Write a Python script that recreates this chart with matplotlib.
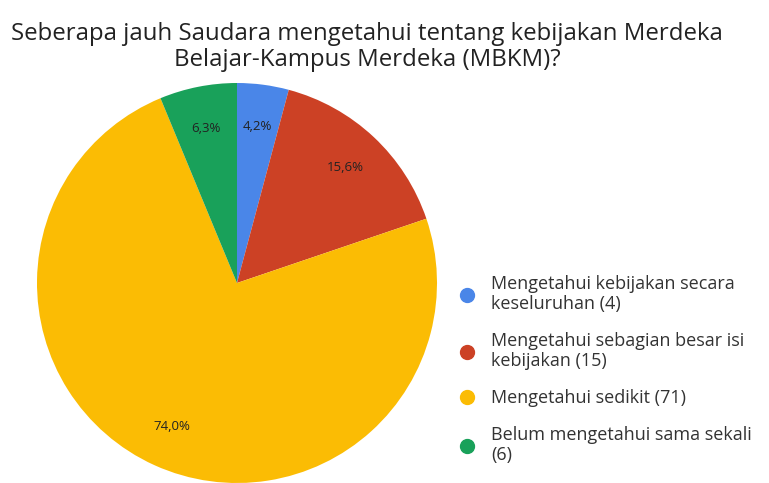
import numpy as np
import matplotlib.pyplot as plt
from matplotlib.lines import Line2D

# Survey data
labels = [
    "Mengetahui kebijakan secara\nkeseluruhan (4)",
    "Mengetahui sebagian besar isi\nkebijakan (15)",
    "Mengetahui sedikit (71)",
    "Belum mengetahui sama sekali\n(6)",
]
counts = [4, 15, 71, 6]
colors = ["#4A86E8", "#CC4125", "#FBBC04", "#19A15A"]
title = "Seberapa jauh Saudara mengetahui tentang kebijakan Merdeka\nBelajar-Kampus Merdeka (MBKM)?"

plt.rcParams["font.family"] = ["Open Sans", "DejaVu Sans"]

fig = plt.figure(figsize=(7.69, 4.83), dpi=100)
ax = fig.add_axes([37 / 769, 0 / 483, 400 / 769, 400 / 483])

total = sum(counts)
wedges, texts = ax.pie(
    counts, colors=colors, startangle=90, counterclock=False,
    wedgeprops=dict(linewidth=0),
)
ax.set_xlim(-1, 1)
ax.set_ylim(-1, 1)
ax.set_aspect("equal")

# percentage labels with comma decimals (round half up)
theta = 90.0
for c in counts:
    frac = c / total
    mid = np.deg2rad(theta - frac * 360 / 2)
    theta -= frac * 360
    pct = np.floor(frac * 1000 + 0.5) / 10
    ax.text(0.79 * np.cos(mid), 0.79 * np.sin(mid),
            f"{pct:.1f}%".replace(".", ","),
            ha="center", va="center", fontsize=9.5, color="#222222")

fig.text(0.477, 0.955, title, ha="center", va="top", fontsize=17.3,
         color="#222222", linespacing=1.15)

handles = [Line2D([], [], marker="o", ls="", color=c, markersize=10) for c in colors]
leg = fig.legend(
    handles, labels, loc="upper left", bbox_to_anchor=(452 / 769, 1 - 268 / 483),
    frameon=False, fontsize=13, handlelength=0.9, labelspacing=1.05,
    handletextpad=0.85, borderaxespad=0,
)
for t in leg.get_texts():
    t.set_color("#333333")
    t.set_linespacing(1.15)

fig.savefig("out.png", dpi=100)
